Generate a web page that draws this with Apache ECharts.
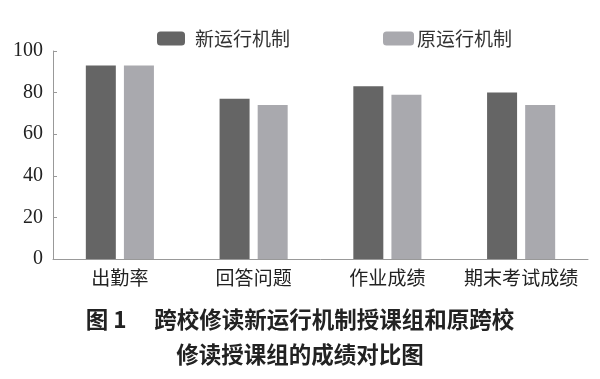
<!DOCTYPE html>
<html><head><meta charset="utf-8">
<script src="https://cdn.jsdelivr.net/npm/echarts@6/dist/echarts.min.js"></script>
<style>html,body{margin:0;padding:0;background:#fff}#c{width:600px;height:379px}</style>
</head><body><div id="c"></div>
<script>
const categories = ['出勤率', '回答问题', '作业成绩', '期末考试成绩'];
const seriesNames = ['新运行机制', '原运行机制'];
const newValues = [93, 77, 83, 80];
const oldValues = [93, 74, 79, 74];
const yTicks = [0, 20, 40, 60, 80, 100];
const captionLines = ['图 1　 跨校修读新运行机制授课组和原跨校', '修读授课组的成绩对比图'];

const cjk = '"Noto Sans CJK SC", sans-serif';
const serifNum = '"Liberation Serif", "DejaVu Serif", serif';
const chart = echarts.init(document.getElementById('c'), null, {renderer: 'canvas'});
chart.setOption({
  animation: false,
  backgroundColor: '#fff',
  title: {
    text: captionLines.join('\n'),
    left: 'center', top: 297,
    textStyle: {fontFamily: cjk, fontSize: 22.5, fontWeight: 'bold', color: '#222', lineHeight: 35}
  },
  legend: [
    {data: [seriesNames[0]], left: 152, top: 24, itemWidth: 28, itemHeight: 14,
     textStyle: {fontFamily: cjk, fontSize: 19, color: '#333', padding: [0, 0, 0, 5]}},
    {data: [seriesNames[1]], left: 378, top: 24, itemWidth: 31, itemHeight: 14,
     textStyle: {fontFamily: cjk, fontSize: 19, color: '#333', padding: [0, 0, 0, -2]}}
  ],
  grid: {left: 53, right: 12, top: 51, bottom: 120, containLabel: false},
  xAxis: {
    type: 'category', data: categories,
    axisLine: {lineStyle: {color: '#999', width: 1}},
    axisTick: {show: false},
    axisLabel: {interval: 0, fontFamily: cjk, fontSize: 19, color: '#222', margin: 9}
  },
  yAxis: {
    type: 'value', min: yTicks[0], max: yTicks[yTicks.length - 1], interval: 20,
    axisLine: {show: true, lineStyle: {color: '#999', width: 1}},
    axisTick: {show: true, inside: true, length: 4, lineStyle: {color: '#999'}},
    splitLine: {show: false},
    axisLabel: {fontFamily: serifNum, fontSize: 20, color: '#222', margin: 10}
  },
  series: [
    {name: seriesNames[0], type: 'bar', data: newValues, barWidth: 30, barGap: '27%',
     itemStyle: {color: '#656565'}},
    {name: seriesNames[1], type: 'bar', data: oldValues, barWidth: 30, barGap: '27%',
     itemStyle: {color: '#a9a9ae'}}
  ]
});
</script></body></html>
